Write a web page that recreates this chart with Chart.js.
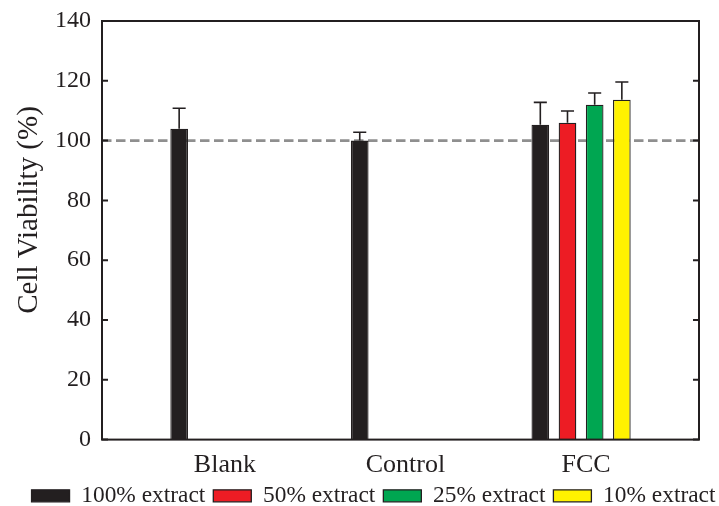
<!DOCTYPE html>
<html>
<head>
<meta charset="utf-8">
<script src="https://cdn.jsdelivr.net/npm/chart.js@4.4.1/dist/chart.umd.min.js"></script>
<style>
  html, body { margin: 0; padding: 0; background: #ffffff; }
  #wrap { width: 719px; height: 506px; }
</style>
</head>
<body>
<div id="wrap"><canvas id="c" width="719" height="506"></canvas></div>
<script>
// Groups on the x axis
const categories = ['Blank', 'Control', 'FCC'];
// Extract concentrations (one bar series each)
const seriesNames = ['100% extract', '50% extract', '25% extract', '10% extract'];
// Mean cell viability (%) per group
const viability100 = [104, 100, 105.3];
const viability50 = [null, null, 106];
const viability25 = [null, null, 112];
const viability10 = [null, null, 113.7];
// Standard deviation (%) per group
const error100 = [6.8, 2.8, 7.5];
const error50 = [null, null, 3.9];
const error25 = [null, null, 3.9];
const error10 = [null, null, 5.9];
// Y axis ticks and the 100 % reference line
const yTicks = [0, 20, 40, 60, 80, 100, 120, 140];
const referenceLevel = 100;
const yTitle = 'Cell Viability (%)';

const valueSets = [viability100, viability50, viability25, viability10];
const errorSets = [error100, error50, error25, error10];
const fills = ['#231f20', '#ed1c24', '#00a651', '#fff200'];
const ink = '#231f20';
const serif = '"Liberation Serif", "Times New Roman", serif';

// dashed reference line, error bars, boxed frame with inward ticks, y title
const decorations = {
  id: 'decorations',
  beforeDatasetsDraw(chart) {
    const { ctx, chartArea: a, scales: { y } } = chart;
    const yy = y.getPixelForValue(referenceLevel);
    ctx.save();
    ctx.strokeStyle = '#8f8f8f';
    ctx.lineWidth = 2.6;
    ctx.setLineDash([9.5, 4.5]);
    ctx.beginPath();
    ctx.moveTo(a.left, yy);
    ctx.lineTo(a.right, yy);
    ctx.stroke();
    ctx.restore();
  },
  afterDatasetsDraw(chart) {
    const { ctx, chartArea: a, scales: { y } } = chart;
    ctx.save();
    ctx.strokeStyle = ink;
    ctx.lineWidth = 1.6;
    valueSets.forEach((vals, i) => {
      const meta = chart.getDatasetMeta(i);
      meta.data.forEach((bar, j) => {
        const v = vals[j];
        const e = errorSets[i][j];
        if (v == null || e == null) return;
        const top = y.getPixelForValue(v + e);
        const cap = bar.width * 0.37;
        ctx.beginPath();
        ctx.moveTo(bar.x, bar.y);
        ctx.lineTo(bar.x, top);
        ctx.moveTo(bar.x - cap, top);
        ctx.lineTo(bar.x + cap, top);
        ctx.stroke();
      });
    });
    // frame
    ctx.lineWidth = 2;
    ctx.strokeRect(a.left, a.top, a.right - a.left, a.bottom - a.top);
    // inward tick marks on both sides
    yTicks.forEach(t => {
      const py = y.getPixelForValue(t);
      ctx.beginPath();
      ctx.moveTo(a.left, py);
      ctx.lineTo(a.left + 6, py);
      ctx.moveTo(a.right, py);
      ctx.lineTo(a.right - 6, py);
      ctx.stroke();
    });
    ctx.restore();
  },
  afterDraw(chart) {
    const { ctx } = chart;
    ctx.save();
    ctx.translate(29, 210);
    ctx.rotate(-Math.PI / 2);
    ctx.font = '29px ' + serif;
    ctx.fillStyle = ink;
    ctx.textAlign = 'center';
    ctx.textBaseline = 'middle';
    ctx.fillText(yTitle, 0, 0);
    ctx.restore();
  }
};

const datasets = seriesNames.map((name, i) => ({
  label: name,
  data: valueSets[i].map((v, j) => ({ x: j, y: v })),
  backgroundColor: fills[i],
  borderColor: ink,
  borderWidth: 1.3,
  barPercentage: 0.65,
  categoryPercentage: 0.602
}));

new Chart(document.getElementById('c'), {
  type: 'bar',
  data: { datasets },
  plugins: [decorations],
  options: {
    responsive: false,
    animation: false,
    layout: { padding: { left: 20, right: -8, top: 21, bottom: -11.5 } },
    plugins: {
      tooltip: { enabled: false },
      legend: {
        position: 'bottom',
        labels: {
          font: { family: serif, size: 23.4 },
          color: ink,
          boxWidth: 38,
          boxHeight: 12,
          padding: 8
        }
      }
    },
    scales: {
      x: {
        type: 'linear',
        offset: false,
        min: -0.653,
        max: 2.653,
        grid: { display: false, drawTicks: false },
        border: { display: false },
        afterBuildTicks: s => { s.ticks = categories.map((_, i) => ({ value: i })); },
        afterFit: s => { s.height = 36.5; },
        ticks: {
          callback: v => categories[v] ?? '',
          font: { family: serif, size: 26 },
          color: ink,
          padding: 10,
          labelOffset: 5,
          maxRotation: 0,
          autoSkip: false
        }
      },
      y: {
        min: 0,
        max: 140,
        grid: { display: false, drawTicks: true, tickLength: 11 },
        border: { display: false },
        afterBuildTicks: s => { s.ticks = yTicks.map(v => ({ value: v })); },
        afterFit: s => { s.width = 82; },
        ticks: { font: { family: serif, size: 24 }, color: ink, padding: 0 }
      },
      yRight: {
        position: 'right',
        min: 0,
        max: 140,
        grid: { display: false, drawTicks: false },
        border: { display: false },
        ticks: { display: false },
        afterFit: s => { s.width = 28; }
      }
    }
  }
});
</script>
</body>
</html>
